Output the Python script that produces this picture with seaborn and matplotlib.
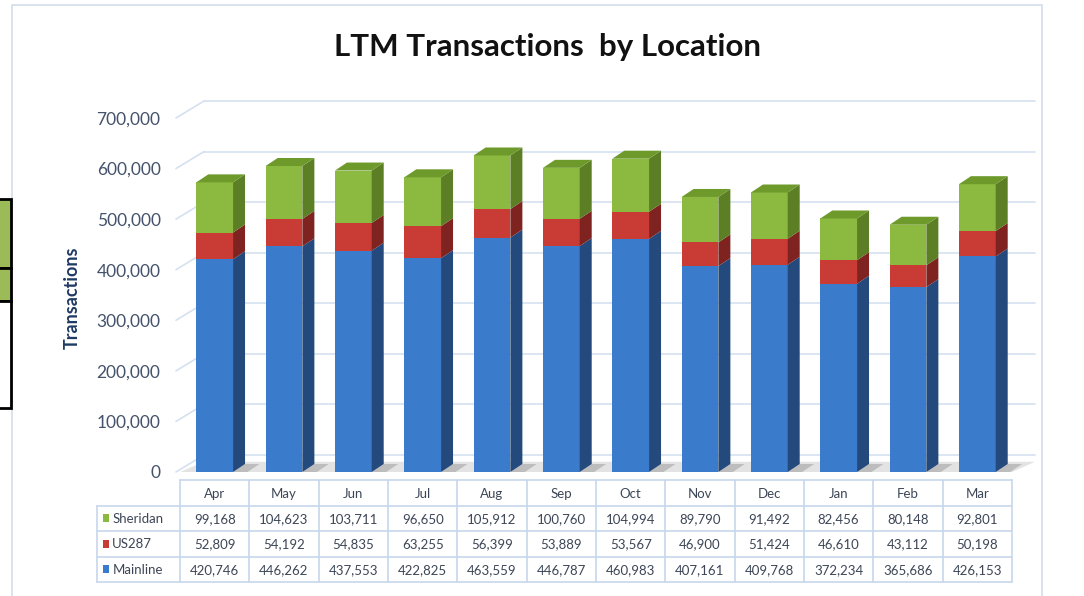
import matplotlib
matplotlib.use("Agg")
import matplotlib.pyplot as plt
import seaborn as sns
from matplotlib.patches import Polygon, Rectangle

# ---------------- data ----------------
months = ["Apr", "May", "Jun", "Jul", "Aug", "Sep", "Oct", "Nov", "Dec", "Jan", "Feb", "Mar"]
sheridan = [99168, 104623, 103711, 96650, 105912, 100760, 104994, 89790, 91492, 82456, 80148, 92801]
us287 = [52809, 54192, 54835, 63255, 56399, 53889, 53567, 46900, 51424, 46610, 43112, 50198]
mainline = [420746, 446262, 437553, 422825, 463559, 446787, 460983, 407161, 409768, 372234, 365686, 426153]
series_names = ["Sheridan", "US287", "Mainline"]
yticks = [0, 100000, 200000, 300000, 400000, 500000, 600000, 700000]

# ---------------- style ----------------
W, H = 1084, 596
sns.set_theme(style="white")
plt.rcParams['font.family'] = ['Lato', 'DejaVu Sans']

fig = plt.figure(figsize=(W / 100, H / 100), dpi=100)
fig.patch.set_facecolor("white")

def fx(px):
    return px / W

def fy(py):
    return 1 - py / H

# chart frame and cut-off artifacts at the left edge
fig.add_artist(Rectangle((fx(12), fy(600)), fx(1042) - fx(12), fy(5) - fy(600),
                         transform=fig.transFigure, fill=False, edgecolor="#D3DDEA", lw=1.2))
fig.add_artist(Rectangle((fx(-5), fy(268)), fx(11) - fx(-5), fy(199) - fy(268),
                         transform=fig.transFigure, facecolor="#9BBB59", edgecolor="black", lw=2))
fig.add_artist(Rectangle((fx(-5), fy(301)), fx(11) - fx(-5), fy(268) - fy(301),
                         transform=fig.transFigure, facecolor="#9BBB59", edgecolor="black", lw=2))
fig.add_artist(Rectangle((fx(-5), fy(408)), fx(11) - fx(-5), fy(301) - fy(408),
                         transform=fig.transFigure, facecolor="white", edgecolor="black", lw=2))

# ---------------- main axes ----------------
x_left, x_right, y0_px, y700_px, extra_px = 180, 1012, 472, 118, 22
col_px = (x_right - x_left) / len(months)
scale = (y0_px - y700_px) / 700000.0          # px per unit value
ax = fig.add_axes([fx(x_left), fy(y0_px), (x_right - x_left) / W, (y0_px - y700_px + extra_px) / H])
ymax = 700000 + extra_px / scale

totals = [m + u + s for m, u, s in zip(mainline, us287, sheridan)]
mid = [m + u for m, u in zip(mainline, us287)]

front = {"Sheridan": "#8CB940", "US287": "#C93B35", "Mainline": "#3A7CCB"}
side = {"Sheridan": "#5C7E24", "US287": "#7F2320", "Mainline": "#24497C"}
top_col = "#6E9A2C"
bw = 0.53

sns.barplot(x=months, y=totals, order=months, color=front["Sheridan"], saturation=1,
            width=bw, edgecolor="none", linewidth=0, ax=ax, zorder=3)
sns.barplot(x=months, y=mid, order=months, color=front["US287"], saturation=1,
            width=bw, edgecolor="none", linewidth=0, ax=ax, zorder=3)
sns.barplot(x=months, y=mainline, order=months, color=front["Mainline"], saturation=1,
            width=bw, edgecolor="none", linewidth=0, ax=ax, zorder=3)

ax.set_xlim(-0.5, len(months) - 0.5)
ax.set_ylim(0, ymax)

# 3D depth faces
bdx = 12 / col_px
bdy = 8 / scale
for i in range(len(months)):
    xr = i + bw / 2
    segs = [(0, mainline[i], "Mainline"), (mainline[i], mid[i], "US287"), (mid[i], totals[i], "Sheridan")]
    for lo, hi, name in segs:
        ax.add_patch(Polygon([(xr, lo), (xr + bdx, lo + bdy), (xr + bdx, hi + bdy), (xr, hi)],
                             closed=True, facecolor=side[name], edgecolor="none", zorder=3))
    t = totals[i]
    ax.add_patch(Polygon([(i - bw / 2, t), (xr, t), (xr + bdx, t + bdy), (i - bw / 2 + bdx, t + bdy)],
                         closed=True, facecolor=top_col, edgecolor="none", zorder=3))
    # shadow on floor
    ax.add_patch(Polygon([(xr, 0), (xr + bdx, bdy), (xr + 2.2 * bdx, bdy), (xr + 1.2 * bdx, 0)],
                         closed=True, facecolor="#BDBDBD", edgecolor="none", zorder=1.5, clip_on=False))

# back-wall gridlines with perspective slant
gdx = 24 / col_px
gdy = 17 / scale
grid_right = len(months) - 0.5 + 23 / col_px
for v in yticks:
    ax.plot([-0.5 - 4 / col_px, -0.5 + gdx], [v, v + gdy], color="#D5E1F1", lw=1.2, zorder=0, clip_on=False)
    ax.plot([-0.5 + gdx, grid_right], [v + gdy, v + gdy], color="#D5E1F1", lw=1.2, zorder=0, clip_on=False)

# floor
ax.add_patch(Polygon([(-0.5, 0), (len(months) - 0.5, 0), (grid_right, gdy * 0.6), (-0.5 + gdx, gdy * 0.6)],
                     closed=True, facecolor="#E3E3E3", edgecolor="none", zorder=1, clip_on=False))

ax.set_yticks(yticks)
ax.set_yticklabels([f"{v:,}" for v in yticks], color="#44536B", fontsize=12.5)
ax.tick_params(axis="y", length=0, pad=14)
ax.set_xticks([])
ax.set_xlabel("")
ax.set_ylabel("")
for sp in ax.spines.values():
    sp.set_visible(False)
ax.patch.set_alpha(0)

fig.text(fx(72), fy(298), "Transactions", rotation=90, ha="center", va="center",
         fontsize=13, fontweight="bold", color="#1F3A63")
fig.text(fx(548), fy(47), "LTM Transactions  by Location", ha="center", va="center",
         fontsize=22.5, fontweight="bold", color="#111111")

# ---------------- data table ----------------
t_left, t_top, t_bottom = 97, 480, 582
tax = fig.add_axes([fx(t_left), fy(t_bottom), (x_right - t_left) / W, (t_bottom - t_top) / H])
xl = -0.5 - (x_left - t_left) / col_px
tax.set_xlim(xl, len(months) - 0.5)
tax.set_ylim(4, 0)
tax.axis("off")
lc = "#C7D7EC"
tax.plot([-0.5, len(months) - 0.5], [0, 0], color=lc, lw=1.2, clip_on=False)
for r in range(1, 5):
    tax.plot([xl, len(months) - 0.5], [r, r], color=lc, lw=1.2, clip_on=False)
for k in range(len(months) + 1):
    tax.plot([-0.5 + k, -0.5 + k], [0, 4], color=lc, lw=1.2, clip_on=False)
tax.plot([xl, xl], [1, 4], color=lc, lw=1.2, clip_on=False)

tcol = "#3C4656"
for i, m in enumerate(months):
    tax.text(i, 0.55, m, ha="center", va="center", fontsize=9.5, color=tcol)
rows = [sheridan, us287, mainline]
for r, (name, vals) in enumerate(zip(series_names, rows), start=1):
    tax.add_patch(Rectangle((xl + 0.08, r + 0.35), 0.1, 0.3, facecolor=front[name], edgecolor="none",
                            clip_on=False))
    tax.text(xl + 0.22, r + 0.52, name, ha="left", va="center", fontsize=9.5, color=tcol)
    for i, v in enumerate(vals):
        tax.text(i, r + 0.52, f"{v:,}", ha="center", va="center", fontsize=9.5, color=tcol)

fig.savefig("out.png", dpi=100)
